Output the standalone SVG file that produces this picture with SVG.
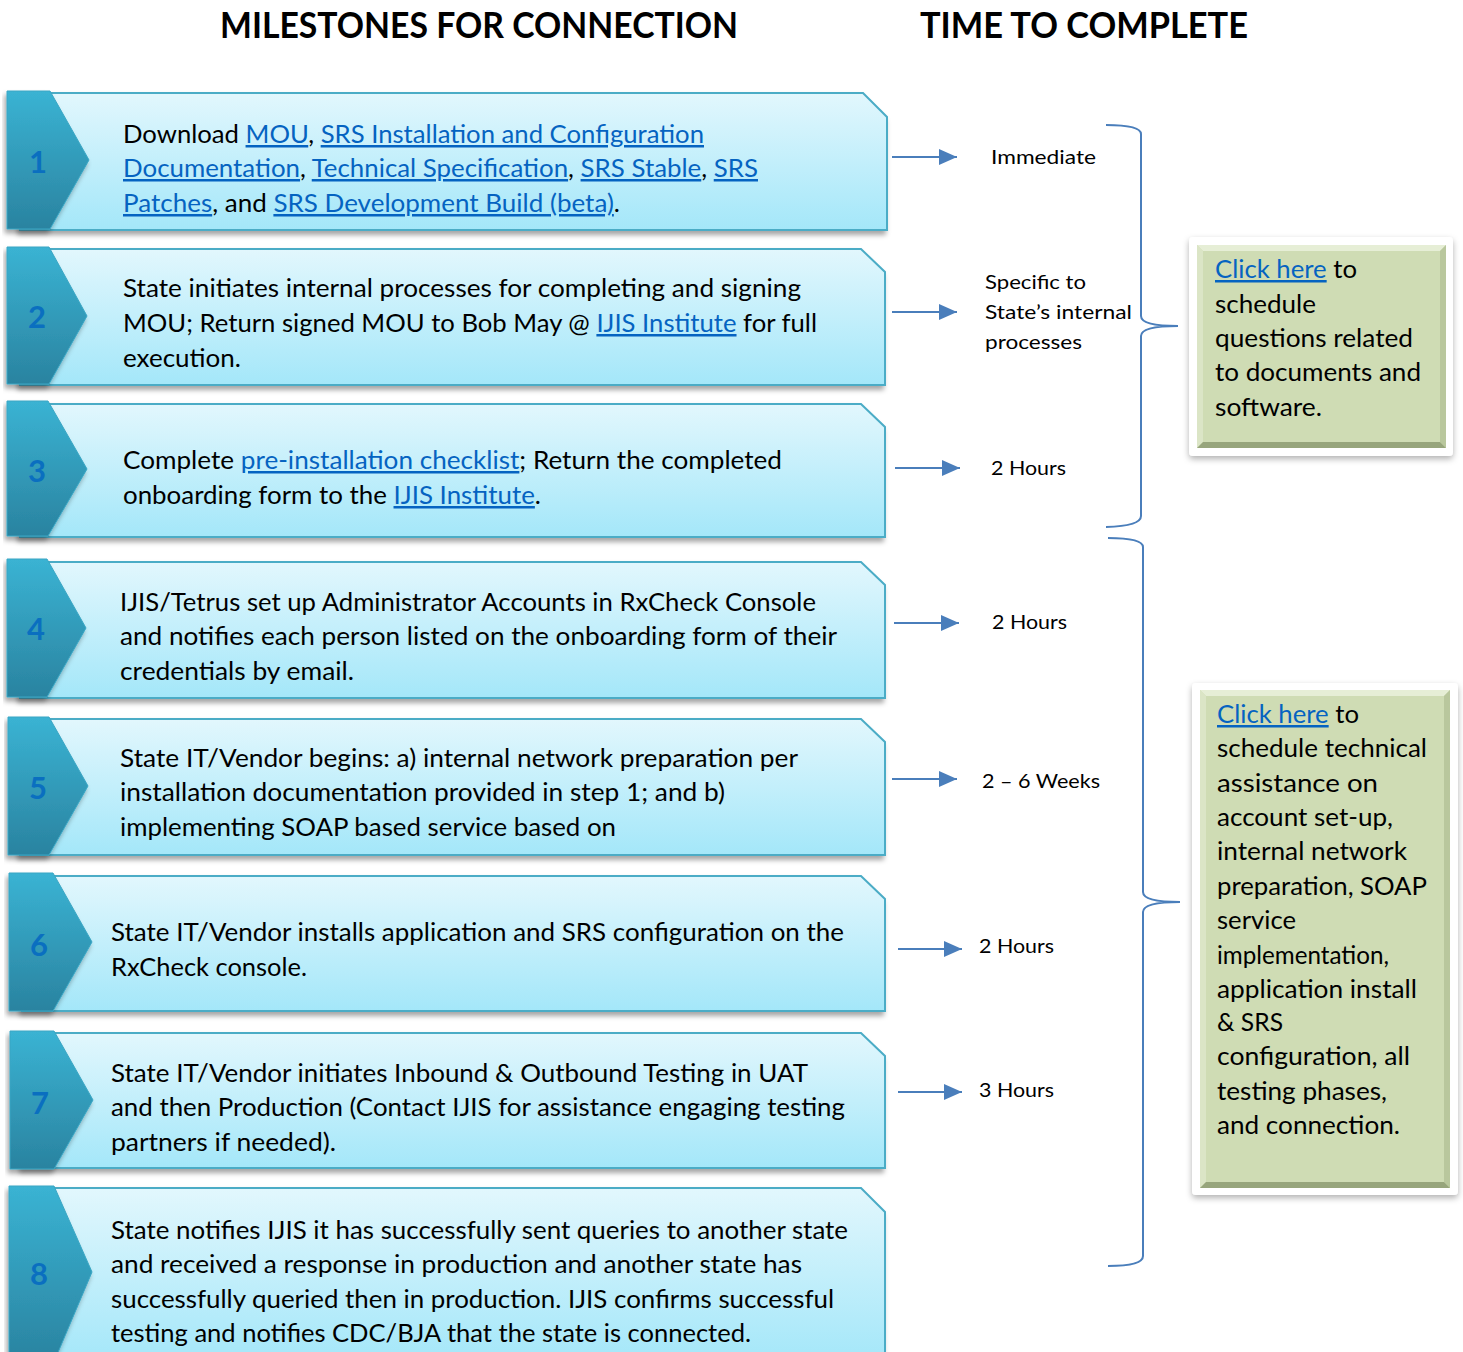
<svg xmlns="http://www.w3.org/2000/svg" width="1463" height="1352" viewBox="0 0 1463 1352">
<defs>
<style>
.h{font-family:Lato,"Liberation Sans",sans-serif;font-weight:bold;font-size:36px;fill:#000}
.t{font-family:Lato,"Liberation Sans",sans-serif;font-size:25px;fill:#000}
.s{font-family:Lato,"Liberation Sans",sans-serif;font-size:20px;fill:#000}
.a{fill:#0563c1;text-decoration:underline}
.n{font-family:Lato,"Liberation Sans",sans-serif;font-weight:bold;font-size:31px;fill:#0a6fc0;text-anchor:middle}
.box{fill:url(#lb);stroke:#4bacc6;stroke-width:2;filter:url(#sh)}
.chev{fill:url(#cb);stroke:#3aa6c4;stroke-width:1;filter:url(#sh)}
.br{stroke:#4a7ebb;stroke-width:2;fill:none}
.frame{fill:#fff;filter:url(#sh2)}
.gr{fill:#cfdcb4}
</style>
<linearGradient id="lb" x1="0" y1="0" x2="0" y2="1">
<stop offset="0" stop-color="#e2f7fd"/>
<stop offset="1" stop-color="#a4e7f9"/>
</linearGradient>
<linearGradient id="cb" x1="0" y1="0" x2="0" y2="1">
<stop offset="0" stop-color="#3ab3d3"/>
<stop offset="1" stop-color="#2a83a0"/>
</linearGradient>
<filter id="sh" x="-5%" y="-10%" width="110%" height="130%">
<feDropShadow dx="-2" dy="4" stdDeviation="2.5" flood-color="#000" flood-opacity="0.35"/>
</filter>
<filter id="sh2" x="-10%" y="-10%" width="120%" height="120%">
<feDropShadow dx="0" dy="3" stdDeviation="3" flood-color="#000" flood-opacity="0.3"/>
</filter>
<marker id="ahb" viewBox="0 0 18 16" refX="18" refY="8" markerWidth="18" markerHeight="16" markerUnits="userSpaceOnUse" orient="auto">
<path d="M0,0 L18,8 L0,16 Z" fill="#4a7ebb"/>
</marker>
</defs>
<rect width="1463" height="1352" fill="#fff"/>

<text class="h" x="220" y="38" textLength="518" lengthAdjust="spacingAndGlyphs">MILESTONES FOR CONNECTION</text>
<text class="h" x="920" y="38" textLength="328" lengthAdjust="spacingAndGlyphs">TIME TO COMPLETE</text>

<g id="step1">
<path class="box" d="M20,93 H863 L887,117 V230 H20 Z"/>
<path class="chev" d="M7,91 H50 L89,160 L50,229 H7 Z"/>
<text class="n" x="38" y="173">1</text>
<text class="t" x="123" y="143" textLength="581" lengthAdjust="spacingAndGlyphs">Download <tspan class="a">MOU</tspan>, <tspan class="a">SRS Installation and Configuration</tspan></text>
<text class="t" x="123" y="177" textLength="635" lengthAdjust="spacingAndGlyphs"><tspan class="a">Documentation</tspan>, <tspan class="a">Technical Specification</tspan>, <tspan class="a">SRS Stable</tspan>, <tspan class="a">SRS</tspan></text>
<text class="t" x="123" y="212" textLength="497" lengthAdjust="spacingAndGlyphs"><tspan class="a">Patches</tspan>, and <tspan class="a">SRS Development Build (beta)</tspan>.</text>
</g>

<g id="step2">
<path class="box" d="M20,249 H861 L885,272 V385 H20 Z"/>
<path class="chev" d="M7,247 H49 L87,316 L49,384 H7 Z"/>
<text class="n" x="37" y="328">2</text>
<text class="t" x="123" y="297" textLength="678" lengthAdjust="spacingAndGlyphs">State initiates internal processes for completing and signing</text>
<text class="t" x="123" y="332" textLength="694" lengthAdjust="spacingAndGlyphs">MOU; Return signed MOU to Bob May @ <tspan class="a">IJIS Institute</tspan> for full</text>
<text class="t" x="123" y="367" textLength="118" lengthAdjust="spacingAndGlyphs">execution.</text>
</g>

<g id="step3">
<path class="box" d="M20,404 H861 L885,427 V537 H20 Z"/>
<path class="chev" d="M7,401 H48 L87,469 L48,536 H7 Z"/>
<text class="n" x="37" y="482">3</text>
<text class="t" x="123" y="469" textLength="659" lengthAdjust="spacingAndGlyphs">Complete <tspan class="a">pre-installation checklist</tspan>; Return the completed</text>
<text class="t" x="123" y="504" textLength="418" lengthAdjust="spacingAndGlyphs">onboarding form to the <tspan class="a">IJIS Institute</tspan>.</text>
</g>

<g id="step4">
<path class="box" d="M20,562 H861 L885,585 V698 H20 Z"/>
<path class="chev" d="M7,559 H47 L86,628 L47,697 H7 Z"/>
<text class="n" x="36" y="640">4</text>
<text class="t" x="120" y="611" textLength="696" lengthAdjust="spacingAndGlyphs">IJIS/Tetrus set up Administrator Accounts in RxCheck Console</text>
<text class="t" x="120" y="645" textLength="717" lengthAdjust="spacingAndGlyphs">and notifies each person listed on the onboarding form of their</text>
<text class="t" x="120" y="680" textLength="234" lengthAdjust="spacingAndGlyphs">credentials by email.</text>
</g>

<g id="step5">
<path class="box" d="M20,719 H861 L885,742 V855 H20 Z"/>
<path class="chev" d="M8,717 H49 L88,786 L49,855 H8 Z"/>
<text class="n" x="38" y="799">5</text>
<text class="t" x="120" y="767" textLength="678" lengthAdjust="spacingAndGlyphs">State IT/Vendor begins: a) internal network preparation per</text>
<text class="t" x="120" y="801" textLength="605" lengthAdjust="spacingAndGlyphs">installation documentation provided in step 1; and b)</text>
<text class="t" x="120" y="836" textLength="496" lengthAdjust="spacingAndGlyphs">implementing SOAP based service based on</text>
</g>

<g id="step6">
<path class="box" d="M22,876 H861 L885,899 V1011 H22 Z"/>
<path class="chev" d="M9,873 H53 L92,942 L53,1011 H9 Z"/>
<text class="n" x="39" y="956">6</text>
<text class="t" x="111" y="941" textLength="733" lengthAdjust="spacingAndGlyphs">State IT/Vendor installs application and SRS configuration on the</text>
<text class="t" x="111" y="976" textLength="196" lengthAdjust="spacingAndGlyphs">RxCheck console.</text>
</g>

<g id="step7">
<path class="box" d="M22,1033 H861 L885,1056 V1168 H22 Z"/>
<path class="chev" d="M10,1031 H54 L93,1100 L54,1169 H10 Z"/>
<text class="n" x="40" y="1114">7</text>
<text class="t" x="111" y="1082" textLength="697" lengthAdjust="spacingAndGlyphs">State IT/Vendor initiates Inbound &amp; Outbound Testing in UAT</text>
<text class="t" x="111" y="1116" textLength="734" lengthAdjust="spacingAndGlyphs">and then Production (Contact IJIS for assistance engaging testing</text>
<text class="t" x="111" y="1151" textLength="225" lengthAdjust="spacingAndGlyphs">partners if needed).</text>
</g>

<g id="step8">
<path class="box" d="M22,1188 H861 L885,1212 V1362 H22 Z"/>
<path class="chev" d="M9,1186 H54 L92,1272 L54,1362 H9 Z"/>
<text class="n" x="39" y="1285">8</text>
<text class="t" x="111" y="1239" textLength="737" lengthAdjust="spacingAndGlyphs">State notifies IJIS it has successfully sent queries to another state</text>
<text class="t" x="111" y="1273" textLength="691" lengthAdjust="spacingAndGlyphs">and received a response in production and another state has</text>
<text class="t" x="111" y="1308" textLength="723" lengthAdjust="spacingAndGlyphs">successfully queried then in production. IJIS confirms successful</text>
<text class="t" x="111" y="1342" textLength="640" lengthAdjust="spacingAndGlyphs">testing and notifies CDC/BJA that the state is connected.</text>
</g>

<g id="times">
<text class="s" x="991" y="164" textLength="105" lengthAdjust="spacingAndGlyphs">Immediate</text>
<text class="s" x="985" y="289" textLength="101" lengthAdjust="spacingAndGlyphs">Specific to</text>
<text class="s" x="985" y="319" textLength="147" lengthAdjust="spacingAndGlyphs">State’s internal</text>
<text class="s" x="985" y="349" textLength="97" lengthAdjust="spacingAndGlyphs">processes</text>
<text class="s" x="991" y="475" textLength="75" lengthAdjust="spacingAndGlyphs">2 Hours</text>
<text class="s" x="992" y="629" textLength="75" lengthAdjust="spacingAndGlyphs">2 Hours</text>
<text class="s" x="982" y="788" textLength="118" lengthAdjust="spacingAndGlyphs">2 – 6 Weeks</text>
<text class="s" x="979" y="953" textLength="75" lengthAdjust="spacingAndGlyphs">2 Hours</text>
<text class="s" x="979" y="1097" textLength="75" lengthAdjust="spacingAndGlyphs">3 Hours</text>
</g>

<g id="connectors">
<path d="M892,157 H957" class="br" marker-end="url(#ahb)"/>
<path d="M892,312 H957" class="br" marker-end="url(#ahb)"/>
<path d="M895,468 H960" class="br" marker-end="url(#ahb)"/>
<path d="M894,623 H959" class="br" marker-end="url(#ahb)"/>
<path d="M892,779 H957" class="br" marker-end="url(#ahb)"/>
<path d="M898,949 H962" class="br" marker-end="url(#ahb)"/>
<path d="M898,1092 H962" class="br" marker-end="url(#ahb)"/>
<path class="br" d="M1106,125 Q1141,125 1141,134 V316 Q1141,326 1178,326 Q1141,326 1141,336 V516 Q1141,526 1106,527"/>
<path class="br" d="M1108,538 Q1143,538 1143,547 V892 Q1143,902 1180,902 Q1143,902 1143,912 V1256 Q1143,1266 1108,1266"/>
</g>

<g id="help1">
<rect class="frame" x="1189" y="237" width="264" height="219" rx="4"/>
<rect class="gr" x="1197" y="245" width="249" height="203"/>
<path d="M1197,245 H1446 L1440,251 H1203 Z" fill="#e6eed6"/>
<path d="M1197,245 L1203,251 V442 L1197,448 Z" fill="#dbe5c6"/>
<path d="M1446,245 L1440,251 V442 L1446,448 Z" fill="#b9c79d"/>
<path d="M1197,448 L1203,442 H1440 L1446,448 Z" fill="#97a57c"/>
<text class="t" x="1215" y="278" textLength="142" lengthAdjust="spacingAndGlyphs"><tspan class="a">Click here</tspan> to</text>
<text class="t" x="1215" y="313" textLength="101" lengthAdjust="spacingAndGlyphs">schedule</text>
<text class="t" x="1215" y="347" textLength="198" lengthAdjust="spacingAndGlyphs">questions related</text>
<text class="t" x="1215" y="381" textLength="206" lengthAdjust="spacingAndGlyphs">to documents and</text>
<text class="t" x="1215" y="416" textLength="107" lengthAdjust="spacingAndGlyphs">software.</text>
</g>

<g id="help2">
<rect class="frame" x="1192" y="683" width="266" height="512" rx="4"/>
<rect class="gr" x="1200" y="690" width="250" height="498"/>
<path d="M1200,690 H1450 L1444,696 H1206 Z" fill="#e6eed6"/>
<path d="M1200,690 L1206,696 V1182 L1200,1188 Z" fill="#dbe5c6"/>
<path d="M1450,690 L1444,696 V1182 L1450,1188 Z" fill="#b9c79d"/>
<path d="M1200,1188 L1206,1182 H1444 L1450,1188 Z" fill="#97a57c"/>
<text class="t" x="1217" y="723" textLength="142" lengthAdjust="spacingAndGlyphs"><tspan class="a">Click here</tspan> to</text>
<text class="t" x="1217" y="757" textLength="210" lengthAdjust="spacingAndGlyphs">schedule technical</text>
<text class="t" x="1217" y="792" textLength="161" lengthAdjust="spacingAndGlyphs">assistance on</text>
<text class="t" x="1217" y="826" textLength="176" lengthAdjust="spacingAndGlyphs">account set-up,</text>
<text class="t" x="1217" y="860" textLength="190" lengthAdjust="spacingAndGlyphs">internal network</text>
<text class="t" x="1217" y="895" textLength="210" lengthAdjust="spacingAndGlyphs">preparation, SOAP</text>
<text class="t" x="1217" y="929" textLength="79" lengthAdjust="spacingAndGlyphs">service</text>
<text class="t" x="1217" y="964" textLength="172" lengthAdjust="spacingAndGlyphs">implementation,</text>
<text class="t" x="1217" y="998" textLength="200" lengthAdjust="spacingAndGlyphs">application install</text>
<text class="t" x="1217" y="1031" textLength="66" lengthAdjust="spacingAndGlyphs">&amp; SRS</text>
<text class="t" x="1217" y="1065" textLength="193" lengthAdjust="spacingAndGlyphs">configuration, all</text>
<text class="t" x="1217" y="1100" textLength="170" lengthAdjust="spacingAndGlyphs">testing phases,</text>
<text class="t" x="1217" y="1134" textLength="183" lengthAdjust="spacingAndGlyphs">and connection.</text>
</g>
</svg>
